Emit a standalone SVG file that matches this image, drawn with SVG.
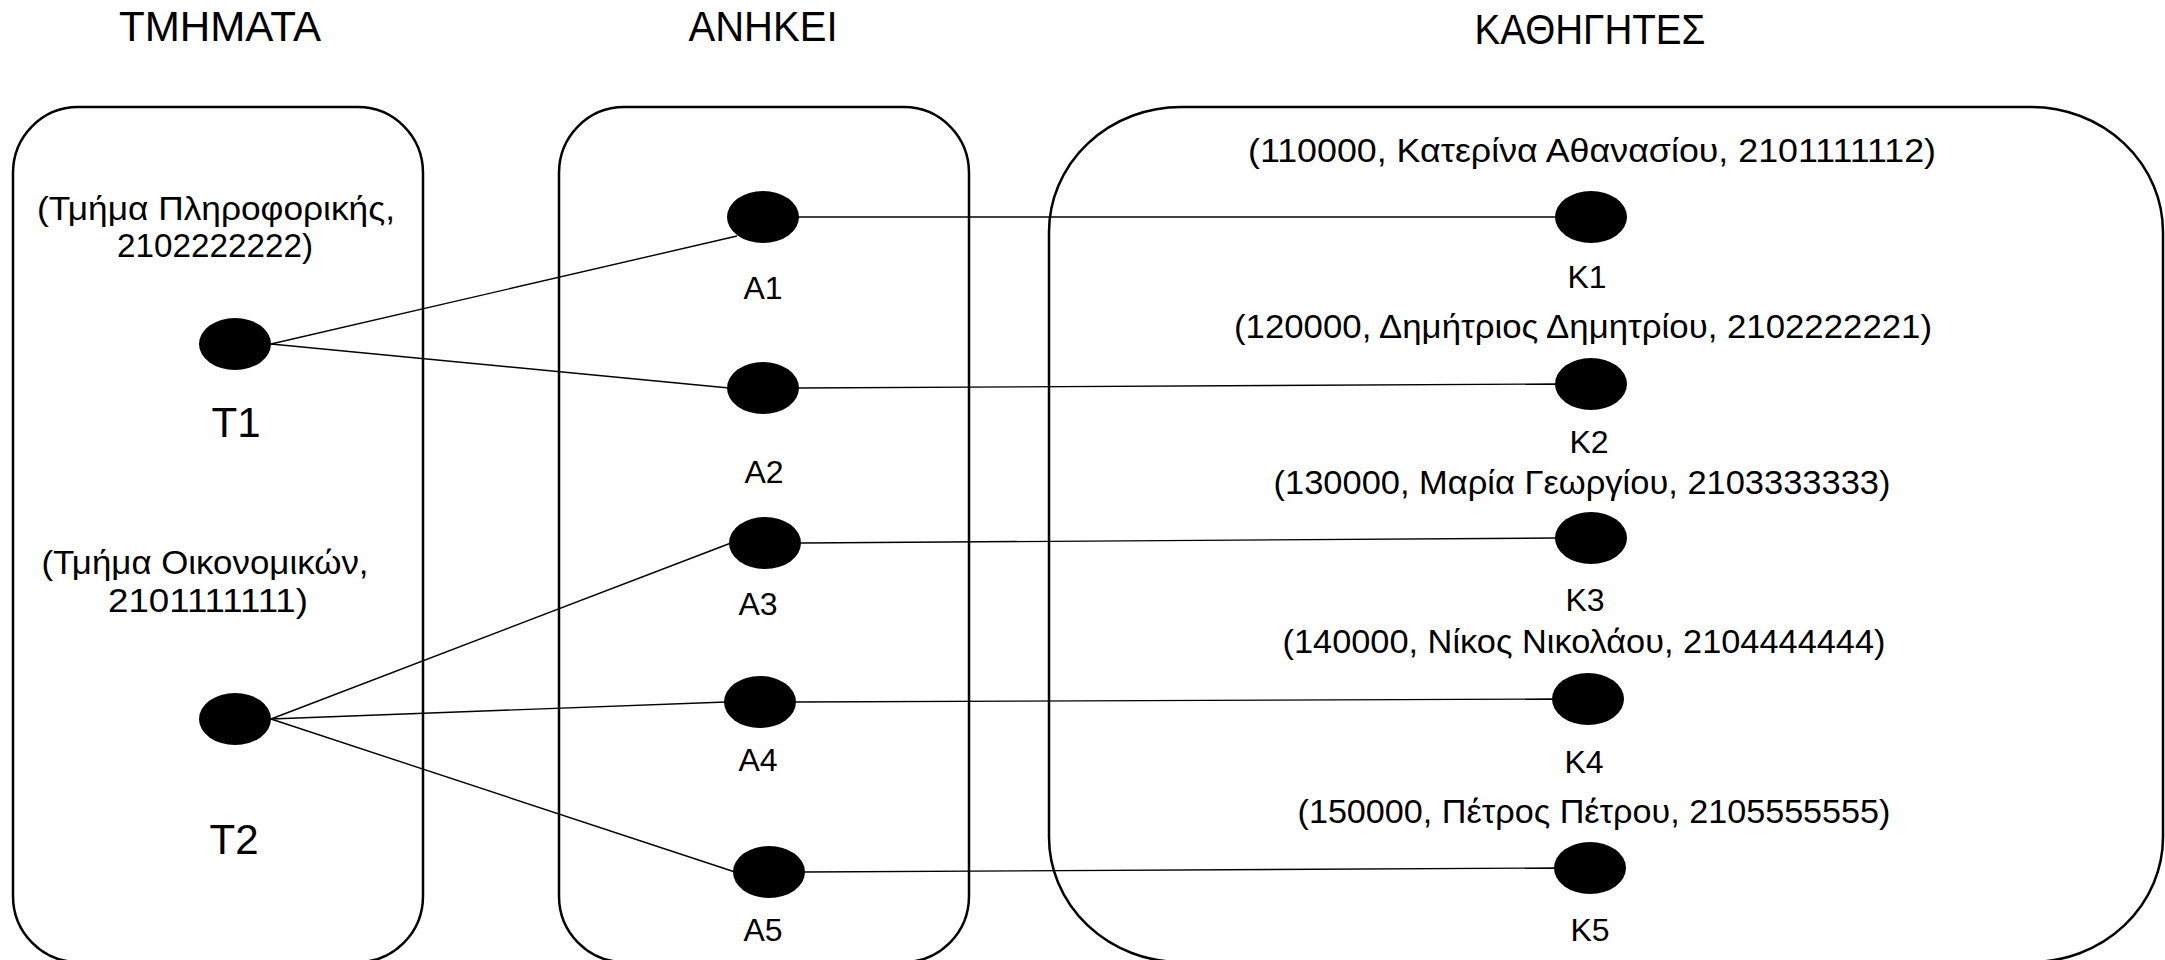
<svg xmlns="http://www.w3.org/2000/svg" width="2165" height="960" viewBox="0 0 2165 960">
<style>
.box{fill:none;stroke:#000;stroke-width:2.5}
.dot{fill:#000}
.ln{stroke:#000;stroke-width:1.4;fill:none}
text{font-family:"Liberation Sans",Arial,sans-serif;fill:#000;text-anchor:middle}
.title{font-size:42px}
.big{font-size:42px}
.lbl{font-size:32px}
.tup{font-size:34px}
</style>
<rect width="2165" height="960" fill="#fff"/>
<g id="sets">
<g id="set-tmimata">
<rect class="box" x="13" y="107" width="410" height="855" rx="65" ry="66"/>
<text class="title" x="220" y="41" textLength="202" lengthAdjust="spacingAndGlyphs">ΤΜΗΜΑΤΑ</text>
</g>
<g id="set-anikei">
<rect class="box" x="559" y="107" width="410" height="855" rx="65" ry="66"/>
<text class="title" x="763" y="41" textLength="149" lengthAdjust="spacingAndGlyphs">ΑΝΗΚΕΙ</text>
</g>
<g id="set-kathigites">
<rect class="box" x="1049" y="107" width="1114" height="855" rx="132" ry="125"/>
<text class="title" x="1590" y="44" textLength="231" lengthAdjust="spacingAndGlyphs">ΚΑΘΗΓΗΤΕΣ</text>
</g>
</g>
<g id="connectors">
<line class="ln" x1="271" y1="344" x2="737" y2="236"/>
<line class="ln" x1="271" y1="344" x2="729" y2="388"/>
<line class="ln" x1="271" y1="719" x2="731" y2="543"/>
<line class="ln" x1="271" y1="719" x2="726" y2="702"/>
<line class="ln" x1="271" y1="719" x2="735" y2="872"/>
<line class="ln" x1="799" y1="217" x2="1556" y2="217"/>
<line class="ln" x1="799" y1="388" x2="1556" y2="384"/>
<line class="ln" x1="801" y1="543" x2="1556" y2="538"/>
<line class="ln" x1="796" y1="702" x2="1553" y2="699"/>
<line class="ln" x1="805" y1="872" x2="1555" y2="868"/>
</g>
<g id="T1">
<text class="tup" x="216" y="220" textLength="358" lengthAdjust="spacingAndGlyphs">(Τμήμα Πληροφορικής,</text>
<text class="tup" x="215" y="257" textLength="196" lengthAdjust="spacingAndGlyphs">2102222222)</text>
<ellipse class="dot" cx="235" cy="344" rx="36" ry="26"/>
<text class="big" x="236" y="437">T1</text>
</g>
<g id="T2">
<text class="tup" x="205" y="574" textLength="327" lengthAdjust="spacingAndGlyphs">(Τμήμα Οικονομικών,</text>
<text class="tup" x="208" y="612" textLength="200" lengthAdjust="spacingAndGlyphs">2101111111)</text>
<ellipse class="dot" cx="235" cy="719" rx="36" ry="26"/>
<text class="big" x="234" y="854">T2</text>
</g>
<g id="A1"><ellipse class="dot" cx="763" cy="217" rx="36" ry="26"/><text class="lbl" x="763" y="299">A1</text></g>
<g id="A2"><ellipse class="dot" cx="763" cy="388" rx="36" ry="26"/><text class="lbl" x="764" y="483">A2</text></g>
<g id="A3"><ellipse class="dot" cx="765" cy="543" rx="36" ry="26"/><text class="lbl" x="758" y="615">A3</text></g>
<g id="A4"><ellipse class="dot" cx="760" cy="702" rx="36" ry="26"/><text class="lbl" x="758" y="771">A4</text></g>
<g id="A5"><ellipse class="dot" cx="769" cy="872" rx="36" ry="26"/><text class="lbl" x="763" y="941">A5</text></g>
<g id="K1">
<text class="tup" x="1592" y="162" textLength="688" lengthAdjust="spacingAndGlyphs">(110000,  Κατερίνα Αθανασίου, 2101111112)</text>
<ellipse class="dot" cx="1591" cy="217" rx="36" ry="26"/><text class="lbl" x="1587" y="288">K1</text>
</g>
<g id="K2">
<text class="tup" x="1583" y="338" textLength="698" lengthAdjust="spacingAndGlyphs">(120000,  Δημήτριος Δημητρίου, 2102222221)</text>
<ellipse class="dot" cx="1591" cy="384" rx="36" ry="26"/><text class="lbl" x="1589" y="453">K2</text>
</g>
<g id="K3">
<text class="tup" x="1582" y="494" textLength="617" lengthAdjust="spacingAndGlyphs">(130000, Μαρία Γεωργίου, 2103333333)</text>
<ellipse class="dot" cx="1591" cy="538" rx="36" ry="26"/><text class="lbl" x="1585" y="611">K3</text>
</g>
<g id="K4">
<text class="tup" x="1584" y="653" textLength="603" lengthAdjust="spacingAndGlyphs">(140000, Νίκος Νικολάου, 2104444444)</text>
<ellipse class="dot" cx="1588" cy="699" rx="36" ry="26"/><text class="lbl" x="1584" y="773">K4</text>
</g>
<g id="K5">
<text class="tup" x="1594" y="823" textLength="593" lengthAdjust="spacingAndGlyphs">(150000, Πέτρος Πέτρου, 2105555555)</text>
<ellipse class="dot" cx="1590" cy="868" rx="36" ry="26"/><text class="lbl" x="1590" y="941">K5</text>
</g>
</svg>
